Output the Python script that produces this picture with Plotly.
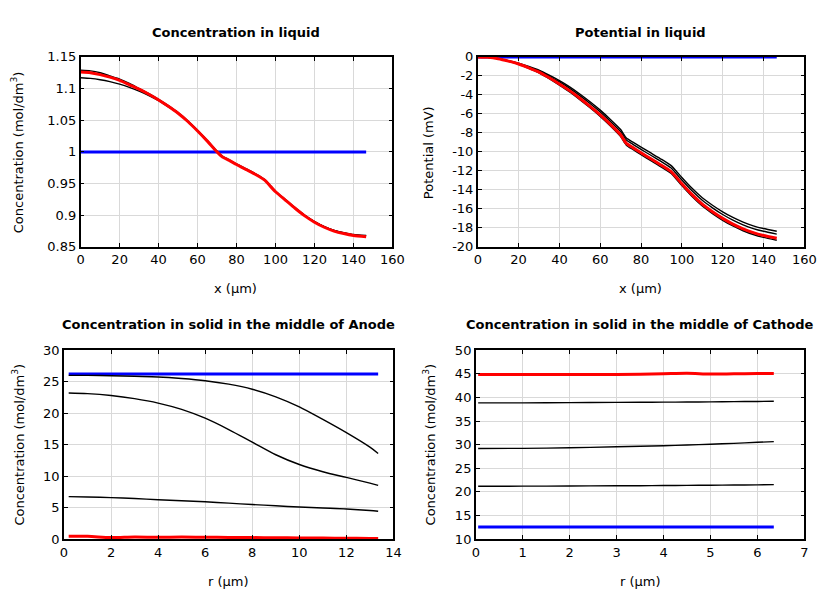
import plotly.graph_objects as go

# ---------------- data ----------------
# Concentration in liquid / Potential in liquid (x in um)
x_liq = [0, 5, 10, 15, 20, 25, 30, 35, 40, 45, 50, 55, 60, 65, 70, 72.8, 76, 80, 85, 90,
         94.6, 97, 100, 105, 110, 115, 120, 125, 130, 135, 140, 146.5]
x_liq_init = [0, 146.5]

c_liq_init = [1.0, 1.0]
c_liq_b1 = [1.117, 1.116, 1.114, 1.111, 1.107, 1.102, 1.096, 1.089, 1.081, 1.071, 1.061, 1.048,
            1.033, 1.017, 1.000, 0.992, 0.987, 0.980, 0.972, 0.964, 0.955, 0.947, 0.937, 0.924,
            0.911, 0.900, 0.890, 0.882, 0.876, 0.872, 0.869, 0.8675]
c_liq_b2 = [1.129, 1.128, 1.125, 1.120, 1.115, 1.108, 1.100, 1.092, 1.083, 1.073, 1.062, 1.049,
            1.034, 1.018, 1.001, 0.993, 0.988, 0.981, 0.973, 0.965, 0.956, 0.948, 0.938, 0.925,
            0.912, 0.900, 0.890, 0.882, 0.876, 0.8725, 0.8695, 0.868]
c_liq_final = [1.126, 1.125, 1.122, 1.118, 1.113, 1.106, 1.099, 1.091, 1.082, 1.072, 1.061, 1.048,
               1.033, 1.017, 1.000, 0.992, 0.987, 0.980, 0.972, 0.964, 0.955, 0.947, 0.937, 0.924,
               0.911, 0.899, 0.889, 0.881, 0.875, 0.871, 0.868, 0.866]

pot_init = [0.0, 0.0]
pot_b1 = [0, -0.05, -0.18, -0.40, -0.67, -1.01, -1.40, -1.93, -2.50, -3.15, -3.90, -4.72, -5.60,
          -6.58, -7.65, -8.54, -8.97, -9.50, -10.14, -10.78, -11.42, -11.96, -12.70, -13.84,
          -14.83, -15.62, -16.31, -16.90, -17.39, -17.78, -18.07, -18.36]
pot_b2 = [0, -0.05, -0.19, -0.42, -0.70, -1.07, -1.48, -2.04, -2.64, -3.31, -4.08, -4.91, -5.80,
          -6.79, -7.87, -8.76, -9.20, -9.74, -10.38, -11.03, -11.67, -12.22, -12.96, -14.10,
          -15.10, -15.89, -16.59, -17.18, -17.68, -18.07, -18.36, -18.65]
pot_b3 = [0, -0.05, -0.21, -0.47, -0.79, -1.21, -1.68, -2.30, -2.97, -3.69, -4.50, -5.36, -6.27,
          -7.28, -8.39, -9.29, -9.75, -10.30, -10.95, -11.60, -12.25, -12.80, -13.55, -14.70,
          -15.70, -16.50, -17.20, -17.80, -18.30, -18.70, -19.00, -19.30]
pot_final = [0, -0.05, -0.20, -0.45, -0.75, -1.15, -1.60, -2.20, -2.85, -3.55, -4.35, -5.20, -6.10,
             -7.10, -8.20, -9.10, -9.55, -10.10, -10.75, -11.40, -12.05, -12.60, -13.35, -14.50,
             -15.50, -16.30, -17.00, -17.60, -18.10, -18.50, -18.80, -19.10]
pot_tickvals = [0, -2, -4, -6, -8, -10, -12, -14, -16, -18, -20]
pot_ticktext = ["0", "-2", "-4", "-6", "-8", "-10", "-12", "-14", "-16", "-18", "-20"]

# Anode particle (r in um)
r_an = [0.2, 1, 2, 3, 4, 5, 6, 7, 8, 9, 10, 11, 12, 13, 13.35]
r_an_init = [0.2, 13.35]
an_init = [26.2, 26.2]
an_b1 = [26.0, 26.0, 25.95, 25.85, 25.75, 25.5, 25.15, 24.6, 23.8, 22.6, 21.0, 19.0, 16.9, 14.6, 13.6]
an_b2 = [23.2, 23.1, 22.8, 22.3, 21.6, 20.6, 19.2, 17.4, 15.4, 13.4, 11.85, 10.7, 9.8, 8.9, 8.55]
an_b3 = [6.75, 6.7, 6.6, 6.45, 6.25, 6.1, 5.93, 5.72, 5.5, 5.3, 5.1, 4.95, 4.8, 4.55, 4.43]
an_final = [0.45, 0.45, 0.25, 0.35, 0.3, 0.35, 0.3, 0.28, 0.25, 0.22, 0.2, 0.18, 0.15, 0.12, 0.1]

# Cathode particle (r in um)
r_ca = [0.05, 1, 2, 3, 3.5, 4, 4.5, 5, 5.5, 6, 6.35]
r_ca_init = [0.05, 6.35]
ca_init = [12.6, 12.6]
ca_b1 = [38.85, 38.85, 38.9, 38.95, 38.97, 39.0, 39.02, 39.05, 39.1, 39.15, 39.2]
ca_b2 = [29.2, 29.22, 29.35, 29.55, 29.65, 29.78, 29.92, 30.1, 30.28, 30.5, 30.65]
ca_b3 = [21.2, 21.22, 21.25, 21.3, 21.32, 21.35, 21.38, 21.42, 21.45, 21.5, 21.55]
ca_final = [44.85, 44.85, 44.85, 44.85, 44.9, 45.0, 45.1, 44.95, 45.0, 45.05, 45.05]

titles = ["Concentration in liquid", "Potential in liquid",
          "Concentration in solid in the middle of Anode",
          "Concentration in solid in the middle of Cathode"]
ytitle_conc = "Concentration (mol/dm<sup>3</sup>)"
y_titles = [ytitle_conc, "Potential (mV)", ytitle_conc, ytitle_conc]
x_titles = ["x (µm)", "x (µm)", "r (µm)", "r (µm)"]

# ---------------- figure ----------------
# page body has an 8px margin; figure is sized so page = 840x600
OFF = 8
W, H = 840 - 2 * OFF, 600 - 2 * OFF
FONT = "DejaVu Sans"
BLUE = "#0000ff"
RED = "#ff0000"

fig = go.Figure()

def add(x, y, ax, color, width, smooth):
    fig.add_trace(go.Scatter(x=x, y=y, mode="lines", xaxis="x" + ax, yaxis="y" + ax,
                             line=dict(color=color, width=width, shape="spline",
                                       smoothing=smooth),
                             showlegend=False, hoverinfo="skip"))

def panel(ax, init_x, init_y, x, blacks, final, smooth):
    add(init_x, init_y, ax, BLUE, 3, 0)
    for b in blacks:
        add(x, b, ax, "black", 1.4, smooth)
    add(x, final, ax, RED, 3, smooth)

panel("", x_liq_init, c_liq_init, x_liq, [c_liq_b1, c_liq_b2], c_liq_final, 0.5)
panel("2", x_liq_init, pot_init, x_liq, [pot_b1, pot_b2, pot_b3], pot_final, 0.5)
panel("3", r_an_init, an_init, r_an, [an_b1, an_b2, an_b3], an_final, 0.9)
panel("4", r_ca_init, ca_init, r_ca, [ca_b1, ca_b2, ca_b3], ca_final, 0.9)

def fx(px):
    return (px - OFF) / W

def fy(py):
    return 1 - (py - OFF) / H

common = dict(showline=True, linecolor="black", linewidth=1.6, mirror="ticks",
              ticks="inside", ticklen=4, tickcolor="black", showgrid=True,
              gridcolor="#d9d9d9", gridwidth=1, zeroline=False,
              tickfont=dict(family=FONT, size=13, color="black"))

def ax(dom, rng, dtick, anchor):
    d = dict(common)
    d.update(domain=dom, range=rng, dtick=dtick, anchor=anchor)
    return d

top_y = [fy(246), fy(51)]
bot_y = [fy(546), fy(352)]

ya2 = ax(top_y, [-20, 0], 2, "x2")
ya2.update(tickmode="array", tickvals=pot_tickvals, ticktext=pot_ticktext)

fig.update_layout(
    width=W, height=H, autosize=False,
    margin=dict(l=0, r=0, t=0, b=0),
    paper_bgcolor="white", plot_bgcolor="white",
    font=dict(family=FONT, size=13, color="black"),
    xaxis=ax([fx(78), fx(396)], [0, 160], 20, "y"),
    yaxis=ax(top_y, [0.85, 1.15], 0.05, "x"),
    xaxis2=ax([fx(483), fx(816)], [0, 160], 20, "y2"),
    yaxis2=ya2,
    xaxis3=ax([fx(61), fx(397)], [0, 14], 2, "y3"),
    yaxis3=ax(bot_y, [0, 30], 5, "x3"),
    xaxis4=ax([fx(481), fx(816)], [0, 7], 1, "y4"),
    yaxis4=ax(bot_y, [10, 50], 5, "x4"),
)

title_pos = [(236.5, 26), (649, 26), (229, 326), (648.5, 326)]
for t, (cx, cy) in zip(titles, title_pos):
    fig.add_annotation(text="<b>" + t + "</b>", x=fx(cx), y=fy(cy), xref="paper",
                       yref="paper", xanchor="center", yanchor="middle", showarrow=False,
                       font=dict(family=FONT, size=13, color="black"))

ytitle_pos = [(14, 149), (433, 149), (14, 449), (433, 449)]
for t, (cx, cy) in zip(y_titles, ytitle_pos):
    fig.add_annotation(text=t, x=fx(cx), y=fy(cy), xref="paper", yref="paper",
                       xanchor="center", yanchor="middle", textangle=-90, showarrow=False,
                       font=dict(family=FONT, size=13, color="black"))

xtitle_pos = [(236, 289), (649, 289), (229, 589), (648.5, 589)]
for t, (cx, cy) in zip(x_titles, xtitle_pos):
    fig.add_annotation(text=t, x=fx(cx), y=fy(cy), xref="paper", yref="paper",
                       xanchor="center", yanchor="middle", showarrow=False,
                       font=dict(family=FONT, size=13, color="black"))

fig.write_html("out.html")
